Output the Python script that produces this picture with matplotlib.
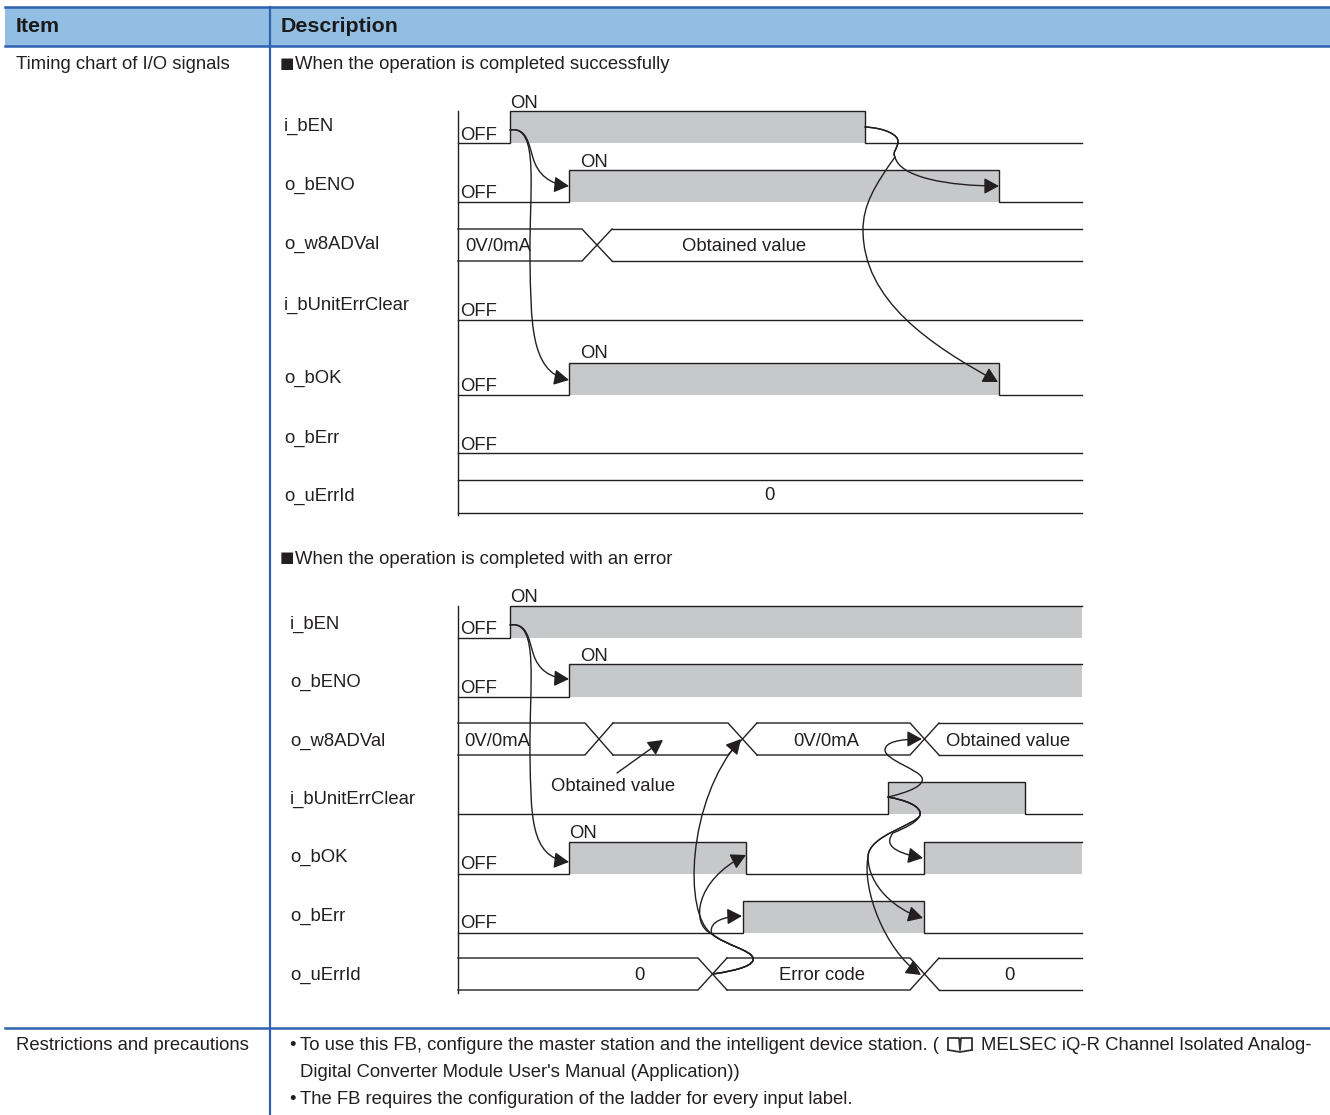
import matplotlib
matplotlib.use("Agg")
import matplotlib.pyplot as plt
from matplotlib.patches import FancyArrowPatch, Rectangle
from matplotlib.path import Path

plt.rcParams['font.family'] = ['Liberation Sans', 'DejaVu Sans']

LINE = '#231f20'
GRAY = '#c7c8ca'
BLUE = '#2e62b0'
HEAD = '#93bee3'
TEXT = '#231f20'
FS = 13.3
DY = 1.5  # va='center' sits a little high for this font
ARROW = '-|>,head_length=0.5,head_width=0.27'

# table text
header_labels = ["Item", "Description"]
row_labels = ["Timing chart of I/O signals", "Restrictions and precautions"]
section_titles = ["When the operation is completed successfully",
                  "When the operation is completed with an error"]
notes = ["To use this FB, configure the master station and the intelligent device station. (",
         "MELSEC iQ-R Channel Isolated Analog-",
         "Digital Converter Module User's Manual (Application))",
         "The FB requires the configuration of the ladder for every input label."]
signal_names = ["i_bEN", "o_bENO", "o_w8ADVal", "i_bUnitErrClear", "o_bOK", "o_bErr", "o_uErrId"]

# first chart: (low, high, rising/falling edges)
top_steps = [(143, 111, [510, 865]),
             (202, 170, [569, 999]),
             (320, 288, []),
             (395, 363, [569, 999]),
             (453, 421, [])]
top_buses = [(229, 261, [(582, 612)]),
             (480, 513, [])]
top_label_y = [125, 184, 243, 304, 377, 437, 495]
top_off_y = [134, 192, 310, 385, 444]
top_on = [(510, 102), (580, 161), (580, 352)]
top_bus_text = [("0V/0mA", 498, 245), ("Obtained value", 744, 245), ("0", 769, 494)]

# second chart
bottom_steps = [(638, 606, [510]),
                (697, 664, [569]),
                (814, 782, [888, 1025]),
                (874, 842, [569, 746, 924]),
                (933, 901, [743, 924])]
bottom_buses = [(723, 755, [(585, 613), (728, 757), (910, 939)]),
                (958, 990, [(698, 727), (910, 939)])]
bottom_label_y = [623, 681, 740, 798, 856, 915, 974]
bottom_off_y = [628, 687, 863, 922]
bottom_on = [(510, 596), (580, 655), (569, 832)]
bottom_bus_text = [("0V/0mA", 497, 740), ("Obtained value", 613, 785), ("0V/0mA", 826, 740),
                   ("Obtained value", 1008, 740), ("0", 639, 974), ("Error code", 822, 974),
                   ("0", 1009, 974)]

# curved arrows, as cubic bezier control points
top_arrows = [
    [(510, 130), (527, 127), (529, 145), (533, 158), (538, 175), (550, 184), (569, 186)],
    [(510, 130), (540, 125), (529, 190), (530, 260), (531, 320), (530, 372), (569, 380)],
    [(865, 127), (885, 128), (899, 135), (898, 142), (897, 150), (892, 152), (895, 157),
     (900, 178), (950, 186), (999, 186)],
    [(865, 127), (885, 128), (899, 135), (898, 142), (897, 150), (892, 152), (895, 157),
     (875, 185), (863, 205), (863, 230), (863, 300), (930, 345), (998, 382)],
]
err_start = [(713, 974), (740, 970), (755, 965), (753, 958), (751, 950), (725, 945), (712, 934)]
clear_start = [(888, 797), (905, 800), (922, 806), (920, 815)]
bottom_arrows = [
    [(510, 625), (527, 622), (529, 640), (533, 653), (538, 670), (550, 678), (569, 679)],
    [(510, 625), (540, 620), (529, 685), (530, 755), (531, 815), (530, 857), (569, 862)],
    # from the error code crossing
    err_start + [(709, 927), (714, 917), (742, 916)],
    err_start + [(690, 925), (695, 880), (746, 855)],
    err_start + [(683, 915), (687, 800), (741, 739)],
    # from the i_bUnitErrClear rising edge
    [(888, 797), (910, 792), (925, 785), (922, 778), (920, 770), (885, 760), (885, 750),
     (885, 742), (900, 739), (922, 739)],
    clear_start + [(918, 822), (905, 828), (893, 833), (885, 843), (890, 852), (923, 858)],
    clear_start + [(917, 825), (868, 835), (868, 857), (868, 885), (895, 910), (923, 918)],
    clear_start + [(917, 825), (868, 835), (868, 857), (862, 890), (885, 950), (921, 975)],
]
straight_arrow = [(617, 773), (663, 740)]


def draw_step(ax, low, high, edges, x0=458, x1=1082):
    xs, ys = [x0], [low]
    level = low
    for e in edges:
        xs += [e, e]
        ys += [level, high if level == low else low]
        level = ys[-1]
    xs.append(x1)
    ys.append(level)
    ax.plot(xs, ys, color=LINE, lw=1.0, solid_joinstyle='miter', zorder=3)
    spans = edges + [x1] if len(edges) % 2 else edges
    for a, b in zip(spans[::2], spans[1::2]):
        ax.add_patch(Rectangle((a, high), b - a, low - high, fc=GRAY, ec='none', zorder=1))


def draw_bus(ax, top, bottom, crossings, x0=458, x1=1082):
    left = x0
    for a, b in crossings:
        ax.plot([left, a, b], [top, top, bottom], color=LINE, lw=1.0, zorder=3)
        ax.plot([left, a, b], [bottom, bottom, top], color=LINE, lw=1.0, zorder=3)
        left = b
    ax.plot([left, x1], [top, top], color=LINE, lw=1.0, zorder=3)
    ax.plot([left, x1], [bottom, bottom], color=LINE, lw=1.0, zorder=3)


def draw_curve(ax, pts):
    codes = [Path.MOVETO] + [Path.CURVE4] * (len(pts) - 1)
    ax.add_patch(FancyArrowPatch(path=Path(pts, codes), arrowstyle=ARROW,
                                 mutation_scale=18, color=LINE, lw=1.0, zorder=4))


def put_text(ax, x, y, s, **kw):
    ax.text(x, y + DY, s, fontsize=FS, color=TEXT, va='center', zorder=5, **kw)


def draw_chart(ax, steps, buses, axis_span, label_x, label_y, off_y, on, bus_text, arrows):
    ax.plot([458, 458], axis_span, color=LINE, lw=1.0, zorder=3)
    for low, high, edges in steps:
        draw_step(ax, low, high, edges)
    for top, bottom, crossings in buses:
        draw_bus(ax, top, bottom, crossings)
    for name, y in zip(signal_names, label_y):
        put_text(ax, label_x, y, name)
    for y in off_y:
        put_text(ax, 460, y, "OFF")
    for x, y in on:
        put_text(ax, x, y, "ON")
    for s, x, y in bus_text:
        put_text(ax, x, y, s, ha='center')
    for pts in arrows:
        draw_curve(ax, pts)


fig = plt.figure(figsize=(13.3, 11.15), dpi=100)
ax = fig.add_axes([0, 0, 1, 1])
ax.set_xlim(0, 1330)
ax.set_ylim(1115, 0)
ax.axis('off')

# table frame
ax.add_patch(Rectangle((5, 7), 1325, 39, fc=HEAD, ec='none', zorder=0))
for y in [7, 46, 1028]:
    ax.plot([5, 1330], [y, y], color=BLUE, lw=1.8, zorder=2)
ax.plot([270, 270], [7, 1115], color=BLUE, lw=1.6, zorder=2)

ax.text(16, 26, header_labels[0], fontsize=15.4, fontweight='bold', color='#1a1a1a', va='center')
ax.text(281, 26, header_labels[1], fontsize=15.4, fontweight='bold', color='#1a1a1a', va='center')
put_text(ax, 16, 63, row_labels[0])
put_text(ax, 16, 1044, row_labels[1])
for title, y in zip(section_titles, [63, 558]):
    ax.text(280, y, "■", fontsize=11, family='DejaVu Sans', color=TEXT, va='center')
    put_text(ax, 295, y, title)

put_text(ax, 289, 1044, "•")
put_text(ax, 300, 1044, notes[0])
put_text(ax, 981, 1044, notes[1])
put_text(ax, 300, 1071, notes[2])
put_text(ax, 289, 1098, "•")
put_text(ax, 300, 1098, notes[3])
# small manual book icon
ax.plot([948, 948, 959, 960, 961, 972, 972], [1050, 1038, 1038, 1050, 1038, 1038, 1050], color='#333333', lw=1.3)
ax.plot([948, 960, 972], [1050, 1052, 1050], color='#333333', lw=1.3)

draw_chart(ax, top_steps, top_buses, [111, 515], 284, top_label_y, top_off_y, top_on, top_bus_text, top_arrows)
draw_chart(ax, bottom_steps, bottom_buses, [606, 993], 290, bottom_label_y, bottom_off_y, bottom_on,
           bottom_bus_text, bottom_arrows)
ax.annotate("", xy=straight_arrow[1], xytext=straight_arrow[0],
            arrowprops=dict(arrowstyle=ARROW, mutation_scale=18,
                            color=LINE, lw=1.0, shrinkA=0, shrinkB=0), zorder=4)

fig.savefig("out.png", dpi=100)
